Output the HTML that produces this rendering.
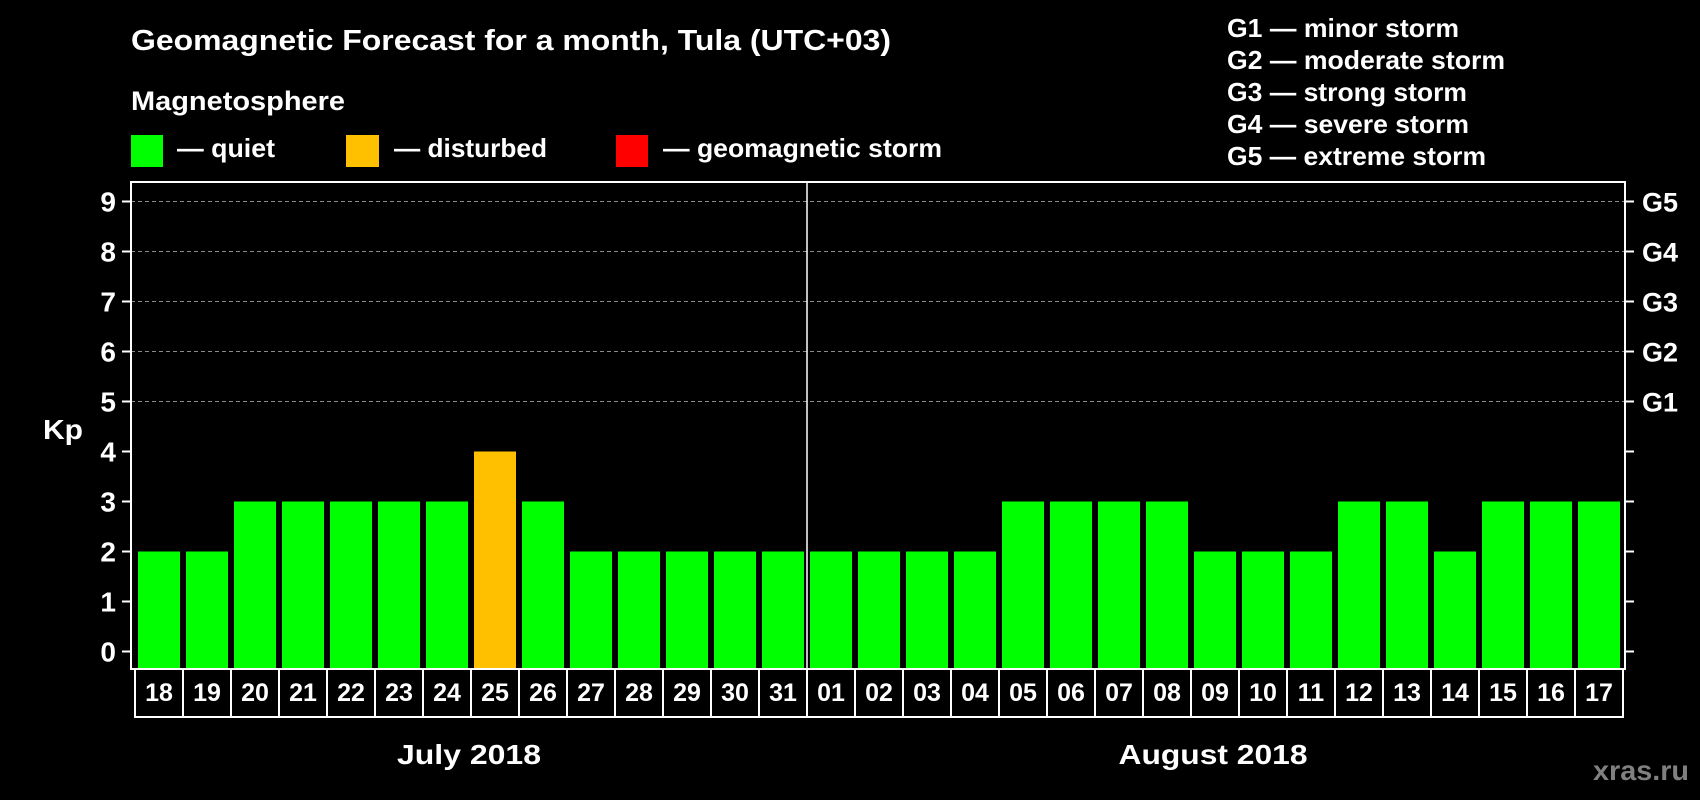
<!DOCTYPE html>
<html><head><meta charset="utf-8"><style>
html,body{margin:0;padding:0;background:#000;width:1700px;height:800px;overflow:hidden}
svg{display:block}
text{font-family:"Liberation Sans",Arial,sans-serif;font-weight:bold;fill:#fff}
</style></head><body>
<svg id="chart" width="1700" height="800" xmlns="http://www.w3.org/2000/svg">
<text x="131" y="50" font-size="29" textLength="760" lengthAdjust="spacingAndGlyphs">Geomagnetic Forecast for a month, Tula (UTC+03)</text>
<text x="131" y="110" font-size="27" textLength="214" lengthAdjust="spacingAndGlyphs">Magnetosphere</text>
<rect x="131" y="135" width="32" height="32" fill="#00ff00"/>
<text x="177" y="157" font-size="26" textLength="98" lengthAdjust="spacingAndGlyphs">— quiet</text>
<rect x="346" y="135" width="33" height="32" fill="#ffc000"/>
<text x="394" y="157" font-size="26" textLength="153" lengthAdjust="spacingAndGlyphs">— disturbed</text>
<rect x="616" y="135" width="32" height="32" fill="#ff0000"/>
<text x="663" y="157" font-size="26" textLength="279" lengthAdjust="spacingAndGlyphs">— geomagnetic storm</text>
<g>
<text x="1227" y="37" font-size="26" textLength="232" lengthAdjust="spacingAndGlyphs">G1 — minor storm</text>
<text x="1227" y="69" font-size="26" textLength="278" lengthAdjust="spacingAndGlyphs">G2 — moderate storm</text>
<text x="1227" y="101" font-size="26" textLength="240" lengthAdjust="spacingAndGlyphs">G3 — strong storm</text>
<text x="1227" y="133" font-size="26" textLength="242" lengthAdjust="spacingAndGlyphs">G4 — severe storm</text>
<text x="1227" y="165" font-size="26" textLength="259" lengthAdjust="spacingAndGlyphs">G5 — extreme storm</text>
</g>
<text x="43" y="439" font-size="28" textLength="40" lengthAdjust="spacingAndGlyphs">Kp</text>
<text x="469" y="764" font-size="28" text-anchor="middle" textLength="144" lengthAdjust="spacingAndGlyphs">July 2018</text>
<text x="1213" y="764" font-size="28" text-anchor="middle" textLength="189" lengthAdjust="spacingAndGlyphs">August 2018</text>
<text x="1689" y="780" font-size="28" text-anchor="end" style="fill:#808080" textLength="96" lengthAdjust="spacingAndGlyphs">xras.ru</text>
<g id="plot"></g>
</svg>
<script>
const days = ["18","19","20","21","22","23","24","25","26","27","28","29","30","31","01","02","03","04","05","06","07","08","09","10","11","12","13","14","15","16","17"];
const kpValues = [2,2,3,3,3,3,3,4,3,2,2,2,2,2,2,2,2,2,3,3,3,3,2,2,2,3,3,2,3,3,3];
const yTicks = [0,1,2,3,4,5,6,7,8,9];
const gLabels = ["G1","G2","G3","G4","G5"];
const gLevels = [5,6,7,8,9];
const monthSplitIndex = 14;

const NS = "http://www.w3.org/2000/svg";
const plotG = document.getElementById("plot");
const pLeft = 131, pRight = 1625, pTop = 182, pBottom = 669;
const yZero = 651.5, unitH = 50;
const pitch = 48, xStart = 135;
function yScale(v){ return yZero - v*unitH; }
function xBand(i){ return xStart + i*pitch; }
function barColor(v){ return v >= 5 ? "#ff0000" : (v >= 4 ? "#ffc000" : "#00ff00"); }
function mk(tag, attrs){ const e=document.createElementNS(NS,tag); for(const k in attrs) e.setAttribute(k,attrs[k]); plotG.appendChild(e); return e; }

gLevels.forEach((v,i)=>{
  const l = mk("line",{x1:pLeft,x2:pRight,y1:yScale(v),y2:yScale(v),stroke:"#8a8a8a","stroke-width":1,"stroke-dasharray":"4,3"});
  
  
  const t = mk("text",{x:1642,y:yScale(v)+10,"font-size":27});
  t.textContent = gLabels[i];
  
  
});
yTicks.forEach(v=>{
  const a = mk("line",{x1:122,x2:pLeft,y1:yScale(v),y2:yScale(v),stroke:"#fff","stroke-width":2});
  
  
  const b = mk("line",{x1:pRight,x2:1634,y1:yScale(v),y2:yScale(v),stroke:"#fff","stroke-width":2});
  
  
  const t = mk("text",{x:116,y:yScale(v)+10,"font-size":28,"text-anchor":"end"});
  t.textContent = v;
  
  
});
kpValues.forEach((v,i)=>{
  const r = mk("rect",{x:xBand(i)+3,y:yScale(v),width:42,height:pBottom-1-yScale(v),fill:barColor(v)});
  
  
  const c = mk("rect",{x:xBand(i),y:pBottom,width:pitch,height:48,fill:"none",stroke:"#fff","stroke-width":2});
  
  
  const t = mk("text",{x:xBand(i)+pitch/2,y:701,"font-size":25,"text-anchor":"middle"});
  t.textContent = days[i];
  
  
});
const frame = mk("rect",{x:pLeft,y:pTop,width:pRight-pLeft,height:pBottom-pTop,fill:"none",stroke:"#fff","stroke-width":2});


const sx = xBand(monthSplitIndex);
const div = mk("line",{x1:sx,x2:sx,y1:pTop,y2:pBottom,stroke:"#fff","stroke-width":1.5});


</script>
</body></html>
